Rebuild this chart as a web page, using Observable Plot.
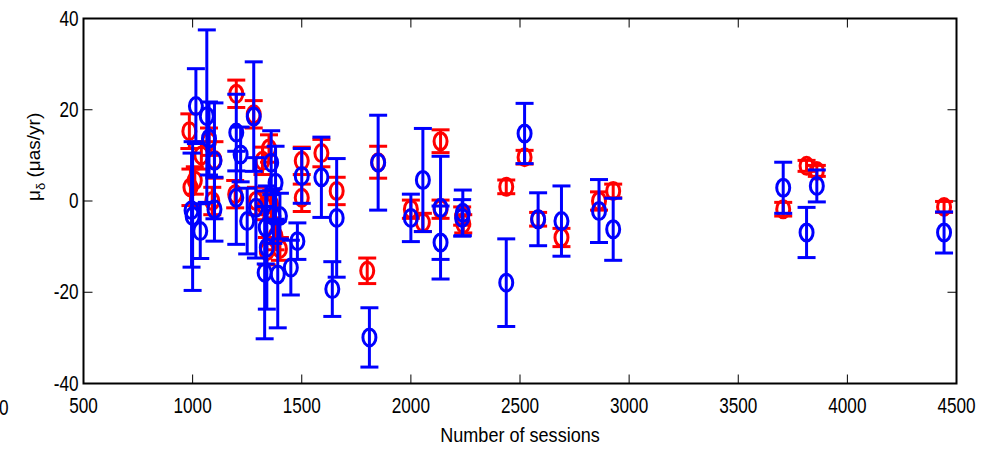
<!DOCTYPE html>
<html>
<head>
<meta charset="utf-8">
<script src="https://cdn.jsdelivr.net/npm/d3@7"></script>
<script src="https://cdn.jsdelivr.net/npm/@observablehq/plot@0.6"></script>
<style>
  body { margin: 0; background: #fff; }
  #wrap { position: relative; width: 981px; height: 452px; }
  #stray { position: absolute; left: -1px; top: 395px; font: 22px "Liberation Sans", Arial, sans-serif; color: #000; transform: scaleX(0.78); transform-origin: 0 0; }
</style>
</head>
<body>
<div id="wrap"><div id="stray">0</div></div>
<script>
// ---- data: [sessions, mu_delta, error] ----
const redSessions = [985, 990, 1010, 1040, 1075, 1090, 1100, 1200, 1195, 1280, 1290, 1320, 1330, 1340, 1350, 1360, 1380, 1400, 1500, 1500, 1590, 1660, 1800, 1850, 2000, 2055, 2136, 2136, 2235, 2240, 2437, 2521, 2583, 2690, 2862, 2927, 3706, 3813, 3860, 4443];
const redValues   = [15.3, 3.0, 4.5, 10, 13, 0, 9, 23.5, 1.5, 19, 0, 8.8, -1.1, -11, 11.5, -0.7, -7.7, -10.5, 8.8, 0.7, 10.5, 2.2, -15.3, 8.5, -1.8, -4.7, 13.1, -1.8, -3.3, -5, 3.1, 9.6, -4, -8, 0, 2.2, -1.8, 7.7, 6.6, -1.3];
const redErrors   = [3.8, 4, 3, 3, 3, 3, 4, 3, 3, 3, 3, 3, 3, 3, 3, 3, 3, 2.5, 3, 3, 3, 3, 2.8, 3.5, 2, 2, 2.5, 2, 2, 2, 1.5, 1.5, 1.5, 2, 2, 1.5, 1.5, 1.2, 1.2, 1.2];

const blueSessions = [995, 1000, 1015, 1035, 1065, 1075, 1100, 1100, 1200, 1220, 1200, 1250, 1280, 1290, 1330, 1335, 1340, 1360, 1370, 1380, 1390, 1400, 1450, 1480, 1500, 1590, 1660, 1640, 1810, 1850, 2000, 2055, 2136, 2136, 2238, 2235, 2437, 2521, 2583, 2690, 2862, 2927, 3706, 3813, 3860, 4443];
const blueValues   = [-2.0, -3.3, 20.8, -6.6, 18.6, 13.7, 8.8, -1.8, 15, 10.2, 0.7, -4.4, 18.5, -1.5, -15.7, -5.8, -10.2, 8.4, -3.3, 4, -16.1, -3.3, -14.6, -8.8, 5.5, 5.2, -3.7, -19.3, -29.9, 8.4, -3.7, 4.6, -1.5, -9.1, -2.6, -3.7, -17.9, 14.8, -4.0, -4.4, -2.2, -6.2, 2.9, -6.9, 3.3, -6.9];
const blueErrors   = [12.5, 16.3, 8.2, 6, 18.9, 8, 12.7, 7, 8.4, 6, 10.2, 7.2, 12, 11, 14.5, 8, 13.5, 7, 6, 8, 11.7, 5, 6, 4, 6, 8.8, 13, 6, 6.5, 10.4, 5.2, 11.3, 11.3, 8, 5, 4, 9.6, 6.6, 5.8, 7.7, 6.9, 6.8, 5.6, 5.5, 3.5, 4.5];

const xTicks = [500, 1000, 1500, 2000, 2500, 3000, 3500, 4000, 4500];
const yTicks = [-40, -20, 0, 20, 40];

const red  = redSessions.map((s, i) => ({s, v: redValues[i], e: redErrors[i]}));
const blue = blueSessions.map((s, i) => ({s, v: blueValues[i], e: blueErrors[i]}));

const FONT = '"Liberation Sans", Arial, sans-serif';
const fmt = d => String(d);

const ellipse = {draw(ctx) {
  const a = 6.5, b = 8.5, k = 0.5523;
  ctx.moveTo(a, 0);
  ctx.bezierCurveTo(a, b * k, a * k, b, 0, b);
  ctx.bezierCurveTo(-a * k, b, -a, b * k, -a, 0);
  ctx.bezierCurveTo(-a, -b * k, -a * k, -b, 0, -b);
  ctx.bezierCurveTo(a * k, -b, a, -b * k, a, 0);
  ctx.closePath();
}};
const cap = {draw(ctx) { ctx.moveTo(-9, 0); ctx.lineTo(9, 0); }};
const tickUp = {draw(ctx) { ctx.moveTo(0, 0); ctx.lineTo(0, -9); }};
const tickDown = {draw(ctx) { ctx.moveTo(0, 0); ctx.lineTo(0, 9); }};
const tickRight = {draw(ctx) { ctx.moveTo(0, 0); ctx.lineTo(9, 0); }};
const tickLeft = {draw(ctx) { ctx.moveTo(0, 0); ctx.lineTo(-9, 0); }};

function series(data, color) {
  return [
    Plot.ruleX(data, {x: "s", y1: d => d.v - d.e, y2: d => d.v + d.e, stroke: color, strokeWidth: 3}),
    Plot.dot(data, {x: "s", y: d => d.v - d.e, symbol: cap, stroke: color, strokeWidth: 3, fill: "none"}),
    Plot.dot(data, {x: "s", y: d => d.v + d.e, symbol: cap, stroke: color, strokeWidth: 3, fill: "none"}),
    Plot.dot(data, {x: "s", y: "v", symbol: ellipse, stroke: color, strokeWidth: 3, fill: "none"})
  ];
}

const chart = Plot.plot({
  width: 981,
  height: 452,
  marginLeft: 83,
  marginRight: 25,
  marginTop: 18,
  marginBottom: 69,
  style: {fontFamily: FONT, fontSize: "22px", color: "#000", background: "#fff"},
  x: {domain: [500, 4500]},
  y: {domain: [-40, 40]},
  marks: [
    Plot.axisX(xTicks, {tickSize: 0, tickPadding: 14, fontSize: 22, label: null, fill: "#000", tickFormat: fmt, className: "narrowX"}),
    Plot.axisY(yTicks, {tickSize: 0, tickPadding: 5, fontSize: 22, label: null, fill: "#000", tickFormat: fmt, className: "narrowY"}),
    Plot.dot(xTicks, {x: d => d, frameAnchor: "bottom", symbol: tickUp, stroke: "#000", strokeWidth: 1}),
    Plot.dot(xTicks, {x: d => d, frameAnchor: "top", symbol: tickDown, stroke: "#000", strokeWidth: 1}),
    Plot.dot(yTicks, {y: d => d, frameAnchor: "left", symbol: tickRight, stroke: "#000", strokeWidth: 1}),
    Plot.dot(yTicks, {y: d => d, frameAnchor: "right", symbol: tickLeft, stroke: "#000", strokeWidth: 1}),
    ...series(red, "#ff0000"),
    ...series(blue, "#0000ff"),
    Plot.frame({stroke: "#000", strokeWidth: 2}),
    Plot.text(["Number of sessions"], {text: d => d, frameAnchor: "bottom", dy: 58, fontSize: 21, fill: "#000", className: "narrowL"}),
    Plot.text(["μδ (μas/yr)"], {text: d => d, frameAnchor: "left", dx: -50, rotate: -90, fontSize: 19, fill: "#000", className: "ylab"})
  ]
});

document.getElementById("wrap").appendChild(chart);

// condensed look: wrap each text in a group squeezed horizontally around its anchor
function squeeze(sel, sx, anchor) {
  const NS = "http://www.w3.org/2000/svg";
  chart.querySelectorAll(sel).forEach(t => {
    const g = document.createElementNS(NS, "g");
    t.parentNode.insertBefore(g, t);
    g.appendChild(t);
    const b = g.getBBox();
    const cx = anchor === "end" ? b.x + b.width : b.x + b.width / 2;
    g.setAttribute("transform", `translate(${cx},0) scale(${sx},1) translate(${-cx},0)`);
  });
}
squeeze(".narrowX text", 0.78, "middle");
squeeze(".narrowY text", 0.78, "end");
squeeze(".narrowL text", 0.86, "middle");

// subscript delta in the y label
const yl = chart.querySelector(".ylab text");
if (yl) {
  yl.textContent = "";
  const NS = "http://www.w3.org/2000/svg";
  const t1 = document.createElementNS(NS, "tspan"); t1.textContent = "μ";
  const t2 = document.createElementNS(NS, "tspan"); t2.textContent = "δ";
  t2.setAttribute("font-size", "13"); t2.setAttribute("dy", "5");
  const t3 = document.createElementNS(NS, "tspan"); t3.textContent = " (μas/yr)";
  t3.setAttribute("dy", "-5");
  yl.append(t1, t2, t3);
}
</script>
</body>
</html>
